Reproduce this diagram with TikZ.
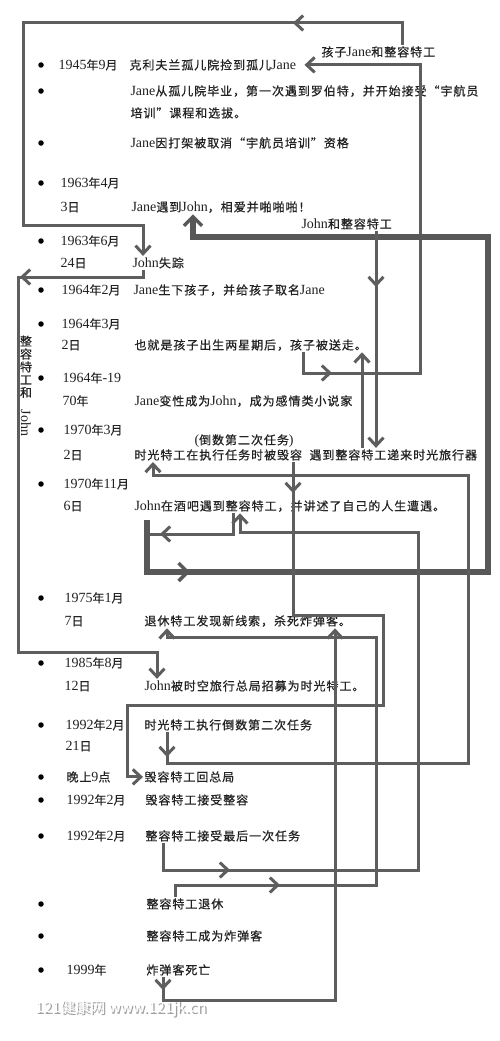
\documentclass[tikz,border=0pt]{standalone}
\usepackage{fontspec}
\usepackage{graphicx}
\setmainfont{Liberation Serif}
\newfontfamily\cjk[LetterSpace=8, FakeBold=0.6]{Noto Sans CJK SC}
\newfontfamily\wmfont{Noto Sans CJK SC}
\usetikzlibrary{arrows.meta, calc}
\definecolor{ink}{HTML}{222222}
\definecolor{wire}{HTML}{5E5E5E}
\definecolor{wirehv}{HTML}{585858}
\definecolor{shade}{HTML}{A0A0A0}
\newcommand{\zh}[1]{{\cjk\fontsize{12}{14}\selectfont #1}}
\tikzset{
  txt/.style={anchor=base west, inner sep=1.5pt, outer sep=0pt, font=\fontsize{14}{16}\selectfont, text=ink},
  blt/.style={circle, fill=black, inner sep=0pt, minimum size=5.5pt},
  ln/.style={draw=wire, line width=3pt},
  hv/.style={draw=wirehv, line width=6pt},
  arw/.style={ln, -{Straight Barb[length=8pt, width=15pt]}},
  harw/.style={hv, -{Straight Barb[length=9pt, width=18pt, line width=3.5pt]}},
}
\begin{document}
\begin{tikzpicture}[x=1pt, y=-1pt]
  \fill[white] (0,0) rectangle (500,1041);
  \useasboundingbox (0,0) rectangle (500,1041);

  \foreach \yy in {65,91,143,183,241,290,324,378,430,484,598,663,725,777,800,836,904,936,970}
    \node[blt] (b\yy) at (41,\yy) {};

  % dates and events
  \node[txt] (d1) at (57,69.5) {1945\zh{年}9\zh{月}};
  \node[txt] (e1) at (128,69.5) {\zh{克利夫兰孤儿院捡到孤儿}Jane};
  \node[txt] (e2) at (129,95.5) {Jane\zh{从孤儿院毕业，第一次遇到罗伯特，并开始接受“宇航员}};
  \node[txt] (e2b) at (129,117.5) {\zh{培训”课程和选拔。}};
  \node[txt] (e3) at (129,147.5) {Jane\zh{因打架被取消“宇航员培训”资格}};
  \node[txt] (d4) at (59,187.5) {1963\zh{年}4\zh{月}};
  \node[txt] (d4b) at (59,211.5) {3\zh{日}};
  \node[txt] (e4) at (130,211.5) {Jane\zh{遇到}John\zh{，相爱并啪啪啪！}};
  \node[txt] (d5) at (59,245.5) {1963\zh{年}6\zh{月}};
  \node[txt] (d5b) at (59,267.5) {24\zh{日}};
  \node[txt] (e5) at (131,267.5) {John\zh{失踪}};
  \node[txt] (d6) at (60,294.5) {1964\zh{年}2\zh{月}};
  \node[txt] (e6) at (132,294.5) {Jane\zh{生下孩子，并给孩子取名}Jane};
  \node[txt] (d7) at (60,328.5) {1964\zh{年}3\zh{月}};
  \node[txt] (d7b) at (60,349.5) {2\zh{日}};
  \node[txt] (e7) at (133,349.5) {\zh{也就是孩子出生两星期后，孩子被送走。}};
  \node[txt] (d8) at (61,382.5) {1964\zh{年}-19};
  \node[txt] (d8b) at (61,405.5) {70\zh{年}};
  \node[txt] (e8) at (133,405.5) {Jane\zh{变性成为}John\zh{，成为感情类小说家}};
  \node[txt] (d9) at (62,434.5) {1970\zh{年}3\zh{月}};
  \node[txt] (d9b) at (62,459.5) {2\zh{日}};
  \node[txt] (n9) at (193,444.5) {(\zh{倒数第二次任务})};
  \node[txt] (e9) at (133,459.5) {\zh{时光特工在执行任务时被毁容}};
  \node[txt] (e9b) at (308,459.5) {\zh{遇到整容特工递来时光旅行器}};
  \node[txt] (d10) at (62,488.5) {1970\zh{年}11\zh{月}};
  \node[txt] (d10b) at (62,510.5) {6\zh{日}};
  \node[txt] (e10) at (133,510.5) {John\zh{在酒吧遇到整容特工，并讲述了自己的人生遭遇。}};
  \node[txt] (d11) at (63,602.5) {1975\zh{年}1\zh{月}};
  \node[txt] (d11b) at (63,625.5) {7\zh{日}};
  \node[txt] (e11) at (143,625.5) {\zh{退休特工发现新线索，杀死炸弹客。}};
  \node[txt] (d12) at (63,667.5) {1985\zh{年}8\zh{月}};
  \node[txt] (d12b) at (63,690.5) {12\zh{日}};
  \node[txt] (e12) at (143,690.5) {John\zh{被时空旅行总局招募为时光特工。}};
  \node[txt] (d13) at (64,729.5) {1992\zh{年}2\zh{月}};
  \node[txt] (d13b) at (64,750.5) {21\zh{日}};
  \node[txt] (e13) at (143,729.5) {\zh{时光特工执行倒数第二次任务}};
  \node[txt] (d14) at (65,781.5) {\zh{晚上}9\zh{点}};
  \node[txt] (e14) at (143,781.5) {\zh{毁容特工回总局}};
  \node[txt] (d15) at (65,804.5) {1992\zh{年}2\zh{月}};
  \node[txt] (e15) at (144,804.5) {\zh{毁容特工接受整容}};
  \node[txt] (d16) at (65,840.5) {1992\zh{年}2\zh{月}};
  \node[txt] (e16) at (144,840.5) {\zh{整容特工接受最后一次任务}};
  \node[txt] (e17) at (145,908.5) {\zh{整容特工退休}};
  \node[txt] (e18) at (145,940.5) {\zh{整容特工成为炸弹客}};
  \node[txt] (d19) at (65,974.5) {1999\zh{年}};
  \node[txt] (e19) at (145,974.5) {\zh{炸弹客死亡}};

  % who travels
  \node[txt] (lab1) at (320,56.5) {\zh{孩子}Jane\zh{和整容特工}};
  \node[txt] (lab2) at (300,228.5) {John\zh{和整容特工}};
  \node[align=center, inner sep=0pt, font=\fontsize{14}{12.8}\selectfont, text=ink] (lab3) at (26,386)
    {\zh{整}\\\zh{容}\\\zh{特}\\\zh{工}\\\zh{和}\\\rotatebox{-90}{John}};

  \node[anchor=west, inner sep=0pt, font=\wmfont\fontsize{15}{17}\selectfont, text=shade] (wm0) at (36.5,1010) {121健康网 www.121jk.cn};
  \node[anchor=west, inner sep=0pt, font=\wmfont\fontsize{15}{17}\selectfont, text=white] (wm) at (35,1008) {121健康网 www.121jk.cn};

  \coordinate (bar) at (147,520);

  \draw[arw] (lab1.north -| 402,0) -- (402,23) -- (23,23) -- (23,225) -- (143,225) -- (e5.north -| 143,0);
  \draw[arw] (303,23) -- (293,23);
  \draw[arw] (e7.south -| 303,0) -- (303,373) -- (420,373) -- (420,0 |- e1.east) -- ([xshift=7pt]e1.east);
  \draw[arw] (322,373) -- (332,373);
  \draw[arw] (e5.south -| 143,0) -- (143,277) -- (18,277) -- (18,652) -- (157,652) -- (e12.north -| 157,0);
  \draw[arw] (30,277) -- (20,277);
  \draw[ln] (e10.south -| 233,0) -- (233,534) -- (bar |- 0,534);
  \draw[arw] (170,534) -- (160,534);
  \draw[harw] (bar) -- (147,572) -- (488,572) -- (488,237) -- (193,237) -- (e4.south -| 193,0);
  \draw[harw] (178,572) -- (190,572);
  \draw[arw] (lab2.south -| 376,0) -- (e9b.north -| 376,0);
  \draw[arw] (376,277) -- (376,287);
  \draw[arw] (e9b.north -| 362,0) -- (e7.south -| 362,0);
  \draw[arw] (e9.south -| 293,0) -- (293,615) -- (383,615) -- (383,705) -- (127,705) |- (e14.west);
  \draw[arw] (293,483) -- (293,493);
  \draw[arw] (e13.south -| 167,0) -- (167,763) -- (468,763) -- (468,475) -- (153,475) -- (e9.south -| 153,0);
  \draw[arw] (167,747) -- (167,757);
  \draw[arw] (e16.south -| 163,0) -- (163,870) -- (418,870) -- (418,532) -- (240,532) -- (e10.south -| 240,0);
  \draw[arw] (220,870) -- (230,870);
  \draw[arw] (e17.north -| 175,0) -- (175,885) -- (376,885) -- (376,637) -- (167,637) -- (e11.south -| 167,0);
  \draw[arw] (270,885) -- (280,885);
  \draw[arw] (e19.south -| 163,0) -- (163,1000) -- (335,1000) -- (e11.south -| 335,0);
  \draw[arw] (163,980) -- (163,990);
\end{tikzpicture}
\end{document}
